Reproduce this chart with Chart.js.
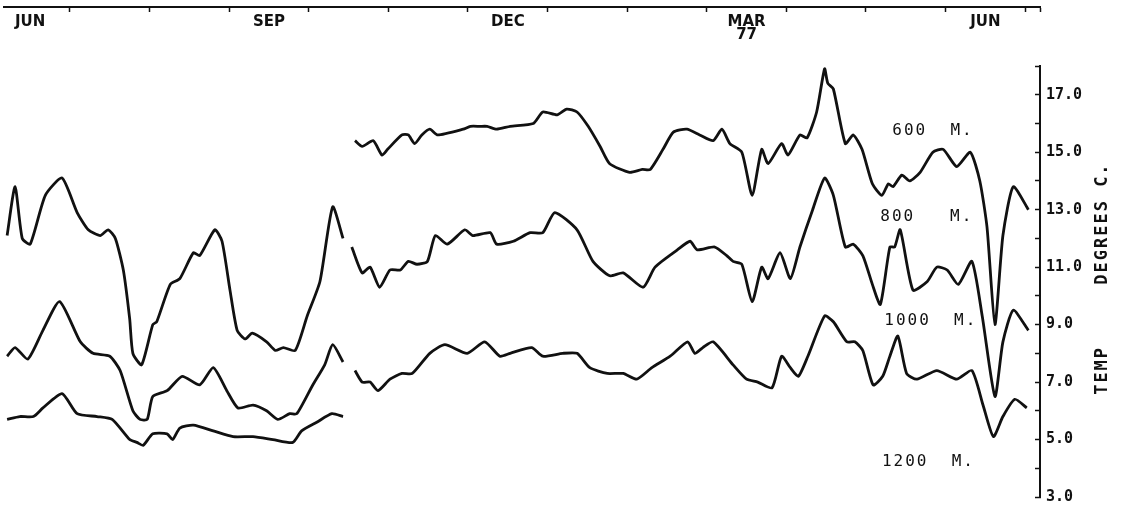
<!DOCTYPE html>
<html>
<head>
<meta charset="utf-8">
<script src="https://cdn.jsdelivr.net/npm/chart.js@4.4.1/dist/chart.umd.min.js"></script>
<style>
  html, body { margin: 0; padding: 0; background: #fff; }
  #wrap { width: 1121px; height: 517px; position: relative; }
</style>
</head>
<body>
<div id="wrap"><canvas id="tempChart"></canvas></div>
<script>
// x = months since 1 Jun 1976, y = temperature (deg C)
// left block: Jun - mid Oct 1976 (800, 1000, 1200 m)
const m800a  = [0.21,0.31,0.40,0.50,0.69,0.90,1.09,1.23,1.38,1.48,1.57,1.67,1.75,1.79,1.90,2.04,2.09,2.26,2.38,2.55,2.63,2.82,2.91,3.01,3.10,3.20,3.29,3.47,3.58,3.68,3.83,3.98,4.14,4.30,4.43];
const t800a  = [12.1,13.8,12.0,11.8,13.5,14.1,12.9,12.3,12.1,12.3,12.0,10.9,9.2,8.0,7.6,9.0,9.1,10.4,10.6,11.5,11.4,12.3,11.9,10.2,8.8,8.5,8.7,8.4,8.1,8.2,8.1,9.3,10.5,13.1,12.0];
const m1000a = [0.21,0.31,0.47,0.66,0.87,1.13,1.29,1.50,1.63,1.79,1.88,1.97,2.04,2.22,2.41,2.63,2.80,2.97,3.11,3.30,3.47,3.61,3.76,3.85,4.05,4.20,4.30,4.43];
const t1000a = [7.9,8.2,7.8,8.8,9.8,8.4,8.0,7.9,7.4,6.0,5.7,5.7,6.5,6.7,7.2,6.9,7.5,6.7,6.1,6.2,6.0,5.7,5.9,5.9,6.9,7.6,8.3,7.7];
const m1200a = [0.21,0.37,0.54,0.66,0.90,1.09,1.34,1.53,1.75,1.84,1.92,2.04,2.22,2.29,2.38,2.55,2.80,3.05,3.30,3.55,3.80,3.91,4.10,4.29,4.43];
const t1200a = [5.7,5.8,5.8,6.1,6.6,5.9,5.8,5.7,5.0,4.9,4.8,5.2,5.2,5.0,5.4,5.5,5.3,5.1,5.1,5.0,4.9,5.3,5.6,5.9,5.8];

// right block: mid Oct 1976 - Jun 1977 (600, 800, 1000 m)
const m600b  = [4.58,4.67,4.81,4.92,4.99,5.17,5.25,5.33,5.42,5.52,5.62,5.94,6.03,6.15,6.24,6.36,6.53,6.82,6.94,7.12,7.24,7.37,7.51,7.66,7.78,8.03,8.19,8.29,8.45,8.58,8.75,8.91,9.08,9.19,9.29,9.44,9.57,9.69,9.77,9.94,10.02,10.17,10.26,10.38,10.48,10.52,10.59,10.74,10.84,10.95,11.08,11.20,11.28,11.34,11.45,11.55,11.68,11.84,11.97,12.14,12.31,12.43,12.52,12.62,12.72,12.85,13.04];
const t600b  = [15.4,15.2,15.4,14.9,15.1,15.6,15.6,15.3,15.6,15.8,15.6,15.8,15.9,15.9,15.9,15.8,15.9,16.0,16.4,16.3,16.5,16.4,15.9,15.2,14.6,14.3,14.4,14.4,15.1,15.7,15.8,15.6,15.4,15.8,15.3,15.0,13.5,15.1,14.6,15.3,14.9,15.6,15.5,16.4,17.9,17.4,17.2,15.3,15.6,15.1,13.9,13.5,13.9,13.8,14.2,14.0,14.3,15.0,15.1,14.5,15.0,14.0,12.4,9.0,12.1,13.8,13.0];
const m800b  = [4.54,4.67,4.77,4.89,5.02,5.15,5.25,5.36,5.49,5.59,5.74,5.96,6.06,6.28,6.36,6.57,6.78,6.94,7.09,7.37,7.57,7.78,7.95,8.20,8.35,8.63,8.79,8.88,9.10,9.25,9.33,9.44,9.57,9.69,9.77,9.92,10.05,10.17,10.33,10.48,10.59,10.74,10.84,10.96,11.08,11.18,11.30,11.36,11.43,11.59,11.77,11.89,12.02,12.16,12.33,12.46,12.62,12.72,12.85,13.04];
const t800b  = [11.7,10.8,11.0,10.3,10.9,10.9,11.2,11.1,11.2,12.1,11.8,12.3,12.1,12.2,11.8,11.9,12.2,12.2,12.9,12.3,11.2,10.7,10.8,10.3,11.0,11.6,11.9,11.6,11.7,11.4,11.2,11.1,9.8,11.0,10.6,11.5,10.6,11.7,13.0,14.1,13.5,11.7,11.8,11.4,10.4,9.7,11.7,11.7,12.3,10.2,10.5,11.0,10.9,10.4,11.2,9.3,6.5,8.4,9.5,8.8];
const m1000b = [4.58,4.67,4.77,4.87,5.02,5.17,5.30,5.52,5.71,5.99,6.21,6.40,6.53,6.80,6.94,7.19,7.37,7.53,7.75,7.95,8.12,8.31,8.54,8.76,8.85,8.95,9.08,9.33,9.50,9.64,9.82,9.94,10.05,10.15,10.27,10.48,10.59,10.76,10.86,10.96,11.09,11.21,11.30,11.40,11.51,11.64,11.89,12.14,12.33,12.47,12.60,12.72,12.87,13.02];
const t1000b = [7.4,7.0,7.0,6.7,7.1,7.3,7.3,8.0,8.3,8.0,8.4,7.9,8.0,8.2,7.9,8.0,8.0,7.5,7.3,7.3,7.1,7.5,7.9,8.4,8.0,8.2,8.4,7.6,7.1,7.0,6.8,7.9,7.5,7.2,7.9,9.3,9.1,8.4,8.4,8.1,6.9,7.2,7.9,8.6,7.3,7.1,7.4,7.1,7.4,6.2,5.1,5.8,6.4,6.1];

// axis text
const monthLabels = ['JUN', 'SEP', 'DEC', ['MAR', '77'], 'JUN'];
const monthLabelAt = [0.5, 3.5, 6.5, 9.5, 12.5];
const monthTicks = [1, 2, 3, 4, 5, 6, 7, 8, 9, 10, 11, 12, 13];
const depthNames = ['600  M.', '800   M.', '1000  M.', '1200  M.'];
const depthNameAt = [[11.33, 15.73], [11.18, 12.76], [11.23, 9.14], [11.20, 4.24]];
const yTitle = 'TEMP     DEGREES C.';

const INK = '#111';
const X_MIN = 0.171, X_MAX = 13.186;
const X_AXIS_AT = 20.07;   // temperature level where the time axis sits

// joins two blocks with a break in between
function serie(mA, tA, mB, tB) {
    const pts = mA.map((m, i) => ({ x: m, y: tA[i] }));
    if (mB) {
        pts.push({ x: (mA[mA.length - 1] + mB[0]) / 2, y: null });
        mB.forEach((m, i) => pts.push({ x: m, y: tB[i] }));
    }
    return pts;
}

const linha = (label, data) => ({
    label: label,
    data: data,
    borderColor: INK,
    borderWidth: 2.8,
    pointRadius: 0,
    tension: 0.2,
    fill: false,
    spanGaps: false
});

// depth names and rotated axis title
const rotulos = {
    id: 'rotulos',
    afterDraw(chart) {
        const { ctx, chartArea } = chart;
        const x = chart.scales.x, y = chart.scales.y;
        ctx.save();
        ctx.fillStyle = INK;
        ctx.font = '16px "DejaVu Sans Mono"';
        ctx.letterSpacing = '2px';
        ctx.textBaseline = 'middle';
        ctx.textAlign = 'left';
        depthNames.forEach((nome, i) => {
            ctx.fillText(nome, x.getPixelForValue(depthNameAt[i][0]), y.getPixelForValue(depthNameAt[i][1]));
        });
        ctx.font = 'bold 17px "DejaVu Sans Mono"';
        ctx.letterSpacing = '2px';
        ctx.translate(chartArea.right + 63, y.getPixelForValue(10.6));
        ctx.rotate(-Math.PI / 2);
        ctx.textAlign = 'center';
        ctx.fillText(yTitle, 0, 0);
        ctx.restore();
    }
};

const ctxTemp = document.getElementById('tempChart').getContext('2d');
const tempChart = new Chart(ctxTemp, {
    type: 'line',
    data: {
        datasets: [
            linha('600 M.', serie(m600b, t600b)),
            linha('800 M.', serie(m800a, t800a, m800b, t800b)),
            linha('1000 M.', serie(m1000a, t1000a, m1000b, t1000b)),
            linha('1200 M.', serie(m1200a, t1200a))
        ]
    },
    options: {
        responsive: true,
        maintainAspectRatio: false,
        animation: false,
        devicePixelRatio: 1,
        layout: { padding: { top: 66, bottom: 16, left: 4, right: 0 } },
        plugins: {
            legend: { display: false },
            tooltip: { enabled: false }
        },
        scales: {
            x: {
                type: 'linear',
                min: X_MIN,
                max: X_MAX,
                position: { y: X_AXIS_AT },
                border: { display: true, color: INK, width: 2 },
                grid: {
                    drawOnChartArea: false,
                    tickLength: 4,
                    tickWidth: 1.5,
                    color: INK,
                    tickColor: c => (c.tick && (Number.isInteger(c.tick.value) || c.tick.value === X_MAX)) ? INK : 'rgba(0,0,0,0)'
                },
                afterBuildTicks: scale => {
                    scale.ticks = monthTicks.concat([X_MAX], monthLabelAt)
                        .sort((a, b) => a - b)
                        .map(v => ({ value: v }));
                },
                ticks: {
                    autoSkip: false,
                    maxRotation: 0,
                    padding: 5,
                    color: INK,
                    font: { family: 'DejaVu Sans', weight: 'bold', size: 15, lineHeight: 0.85 },
                    callback: v => {
                        const i = monthLabelAt.indexOf(v);
                        return i >= 0 ? monthLabels[i] : '';
                    }
                }
            },
            y: {
                type: 'linear',
                position: 'right',
                min: 3,
                max: 18,
                afterFit: scale => { scale.width = 81; },
                border: { display: true, color: INK, width: 2 },
                grid: { drawOnChartArea: false, tickLength: -5, tickWidth: 1.5, color: INK },
                ticks: {
                    stepSize: 1,
                    autoSkip: false,
                    padding: 11,
                    color: INK,
                    font: { family: 'DejaVu Sans Mono', weight: 'bold', size: 15 },
                    callback: v => (v % 2 === 1) ? v.toFixed(1) : ''
                }
            }
        }
    },
    plugins: [rotulos]
});
</script>
</body>
</html>
